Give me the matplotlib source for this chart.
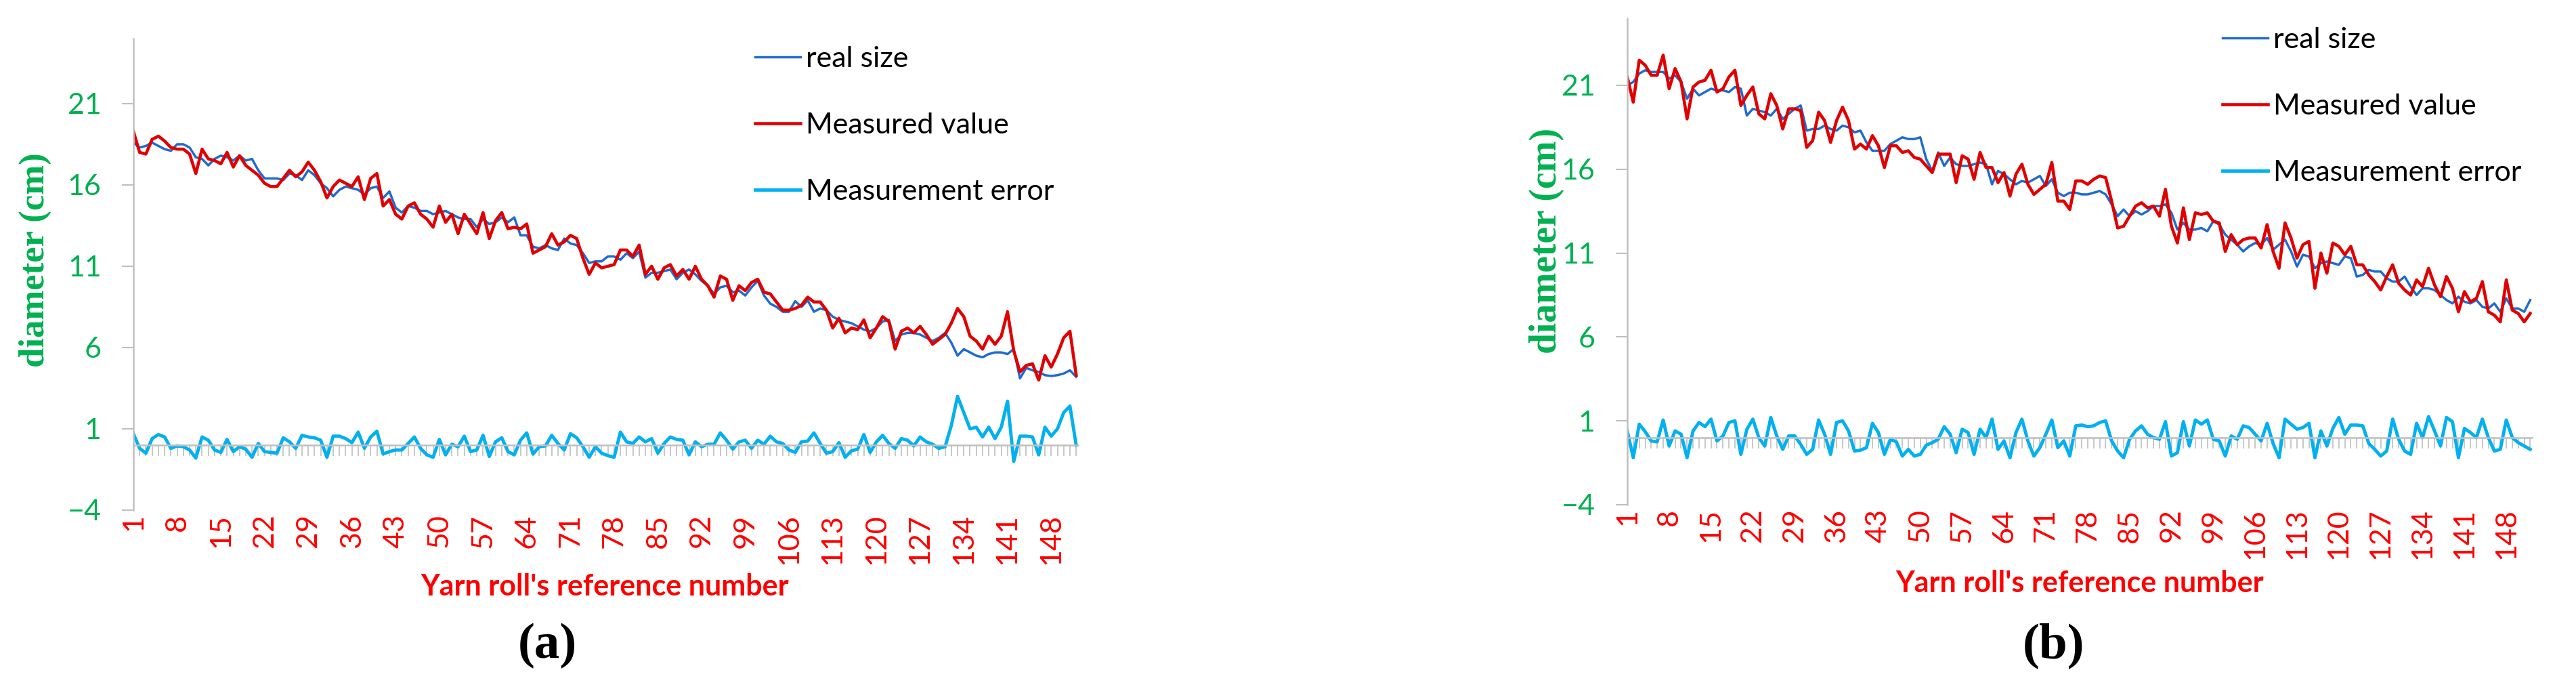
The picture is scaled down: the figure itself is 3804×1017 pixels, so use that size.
import numpy as np
import matplotlib.pyplot as plt

plt.rcParams['font.family'] = ['Lato', 'DejaVu Sans']

# panel (a)
real_a = [18.6, 18.3, 18.4, 18.6, 18.4, 18.2, 18.1, 18.5, 18.5, 18.3,
          17.7, 17.6, 17.2, 17.6, 17.8, 17.7, 17.5, 17.8, 17.5, 17.6,
          16.9, 16.4, 16.4, 16.4, 16.3, 16.7, 16.6, 16.3, 16.9, 16.6,
          16.1, 15.8, 15.3, 15.7, 15.9, 15.8, 15.7, 15.4, 15.8, 15.9,
          15.2, 15.6, 14.6, 14.3, 14.7, 14.6, 14.4, 14.4, 14.2, 14.3,
          14.4, 14.2, 14.0, 13.9, 13.9, 13.4, 13.9, 13.6, 13.7, 14.0,
          13.7, 14.0, 12.9, 12.9, 12.2, 12.1, 12.3, 12.1, 12.0, 12.7,
          12.4, 12.3, 11.8, 11.2, 11.3, 11.3, 11.6, 11.6, 11.4, 11.8,
          11.5, 11.9, 10.3, 10.6, 10.6, 10.7, 10.8, 10.2, 10.6, 10.8,
          10.5, 10.1, 9.8, 9.3, 9.7, 9.8, 9.4, 9.5, 9.2, 9.7,
          10.1, 9.2, 8.7, 8.5, 8.2, 8.2, 8.85, 8.5, 8.9, 8.2,
          8.4, 8.3, 7.9, 7.7, 7.6, 7.5, 7.3, 7.1, 7.0, 7.2,
          7.6, 7.7, 6.4, 6.8, 6.9, 6.9, 6.8, 6.6, 6.4, 6.6,
          6.9, 6.3, 5.5, 5.9, 5.7, 5.5, 5.4, 5.6, 5.7, 5.7,
          5.6, 5.9, 4.1, 4.75, 4.6, 4.5, 4.3, 4.25, 4.3, 4.4,
          4.6, 4.2]
measured_a = [19.3, 18.0, 17.9, 18.8, 19.0, 18.7, 18.3, 18.2, 18.2, 17.9,
              16.7, 18.2, 17.6, 17.5, 17.3, 18.0, 17.1, 17.8, 17.2, 16.9,
              16.6, 16.1, 15.9, 15.9, 16.4, 16.9, 16.5, 16.8, 17.4, 16.9,
              16.2, 15.2, 15.9, 16.3, 16.1, 15.9, 16.5, 15.1, 16.4, 16.7,
              14.7, 15.1, 14.2, 13.9, 14.7, 14.9, 14.2, 13.9, 13.4, 14.7,
              13.7, 14.2, 13.0, 14.2, 13.6, 13.0, 14.3, 12.7, 13.8, 14.3,
              13.3, 13.4, 13.3, 13.6, 11.8, 12.0, 12.2, 13.0, 12.3, 12.5,
              12.9, 12.7, 11.5, 10.5, 11.2, 10.9, 11.0, 11.1, 12.0, 12.0,
              11.6, 12.3, 10.5, 11.0, 10.2, 10.9, 11.1, 10.4, 10.8, 10.2,
              11.0, 10.2, 9.8, 9.1, 10.4, 10.2, 8.9, 9.8, 9.5, 10.0,
              10.2, 9.4, 9.3, 8.8, 8.3, 8.3, 8.4, 8.6, 9.1, 8.8,
              8.8, 8.3, 7.2, 7.8, 6.9, 7.2, 7.1, 7.7, 6.6, 7.2,
              7.9, 7.6, 5.9, 7.0, 7.2, 6.9, 7.3, 6.8, 6.2, 6.5,
              6.8, 7.5, 8.4, 7.9, 6.7, 6.4, 5.9, 6.7, 6.2, 6.7,
              8.2, 5.8, 4.5, 4.9, 5.0, 4.0, 5.5, 4.8, 5.6, 6.6,
              7.0, 4.3]
error_a = [0.7, -0.2, -0.5, 0.4, 0.65, 0.5, -0.2, -0.05, -0.1, -0.3,
           -0.8, 0.5, 0.3, -0.3, -0.45, 0.35, -0.4, -0.1, -0.25, -0.75,
           0.1, -0.4, -0.45, -0.5, 0.45, 0.2, -0.2, 0.6, 0.5, 0.45,
           0.3, -0.75, 0.55, 0.55, 0.4, 0.15, 0.8, -0.2, 0.5, 0.85,
           -0.55, -0.4, -0.3, -0.3, 0.1, 0.5, -0.2, -0.6, -0.75, 0.35,
           -0.6, 0.05, -0.1, 0.55, -0.4, -0.3, 0.6, -0.7, 0.2, 0.45,
           -0.4, -0.6, 0.3, 0.75, -0.55, -0.1, -0.05, 0.6, 0.1, -0.3,
           0.7, 0.45, -0.1, -0.75, -0.1, -0.5, -0.65, -0.75, 0.8, 0.2,
           0.1, 0.5, 0.2, 0.4, -0.5, 0.1, 0.5, 0.35, 0.3, -0.6,
           0.2, -0.1, 0.05, 0.05, 0.75, 0.3, -0.25, 0.2, 0.3, -0.2,
           0.3, 0.05, 0.55, 0.2, 0.1, -0.3, -0.45, 0.2, 0.25, 0.75,
           0.1, -0.5, -0.4, 0.15, -0.75, -0.35, -0.25, 0.65, -0.45, 0.2,
           0.6, 0.1, -0.2, 0.4, 0.3, -0.05, 0.5, 0.2, 0.05, -0.2,
           -0.1, 1.2, 3.0, 2.0, 1.0, 1.1, 0.5, 1.1, 0.4, 1.1,
           2.7, -1.0, 0.55, 0.55, 0.5, -0.6, 1.1, 0.55, 1.0, 2.0,
           2.4, 0.0]

# panel (b)
real_b = [21.0, 21.2, 21.7, 21.9, 21.8, 21.8, 21.8, 21.4, 21.6, 21.2,
          20.2, 20.8, 20.4, 20.6, 20.8, 20.7, 20.7, 20.6, 20.9, 20.8,
          19.2, 19.6, 19.5, 19.4, 19.2, 19.6, 19.0, 19.3, 19.6, 19.8,
          18.3, 18.4, 18.4, 18.6, 18.4, 18.3, 18.6, 18.5, 18.2, 18.3,
          17.6, 17.1, 17.1, 17.1, 17.5, 17.7, 17.9, 17.8, 17.8, 17.9,
          16.6, 15.9, 17.0, 16.2, 16.7, 16.3, 16.2, 16.2, 16.3, 16.4,
          16.3, 15.1, 15.9, 15.7, 15.4, 15.1, 15.3, 15.2, 15.4, 15.6,
          15.0, 15.4, 14.6, 14.4, 14.6, 14.6, 14.5, 14.5, 14.6, 14.7,
          14.5, 13.9, 13.2, 13.6, 13.2, 13.5, 13.3, 13.5, 13.8, 13.8,
          13.9, 13.4, 12.4, 12.8, 12.4, 12.4, 12.5, 12.3, 12.9, 12.7,
          12.1, 11.8, 11.5, 11.1, 11.4, 11.6, 11.5, 11.9, 11.2, 11.5,
          11.8, 11.1, 10.2, 10.9, 10.8, 10.1, 10.4, 10.5, 10.4, 10.3,
          10.8, 10.7, 9.6, 9.7, 10.0, 9.9, 9.9, 9.5, 9.3, 9.3,
          9.6, 9.0, 8.5, 8.9, 8.9, 8.8, 8.5, 8.2, 8.0, 8.4,
          8.1, 8.0, 8.2, 7.8, 7.7, 8.0, 7.5, 8.3, 7.7, 7.7,
          7.5, 8.2]
measured_b = [21.5, 20.0, 22.5, 22.2, 21.6, 21.6, 22.8, 20.8, 22.0, 21.2,
              19.0, 20.9, 21.2, 21.3, 21.9, 20.6, 20.8, 21.5, 21.9, 19.8,
              20.4, 20.9, 19.3, 19.0, 20.5, 19.8, 18.4, 19.6, 19.6, 19.5,
              17.3, 17.7, 19.4, 18.9, 17.6, 18.9, 19.7, 18.9, 17.2, 17.5,
              17.2, 18.0, 17.4, 16.1, 17.4, 17.4, 17.0, 17.1, 16.7, 16.6,
              16.2, 15.8, 16.9, 16.9, 16.9, 15.2, 16.8, 16.6, 15.4, 17.0,
              16.1, 16.1, 15.2, 15.8, 14.4, 15.7, 16.3, 15.1, 14.5, 14.8,
              15.1, 16.4, 14.1, 14.1, 13.6, 15.3, 15.3, 15.1, 15.4, 15.6,
              15.5, 14.1, 12.5, 12.6, 13.2, 13.8, 14.0, 13.7, 13.8, 13.2,
              14.8, 12.6, 11.6, 13.7, 11.8, 13.4, 13.3, 13.4, 12.9, 12.8,
              11.1, 12.1, 11.5, 11.8, 11.9, 11.9, 11.3, 12.7, 11.1, 10.1,
              12.8, 11.9, 10.7, 11.5, 11.7, 8.9, 11.0, 9.8, 11.6, 11.4,
              10.9, 11.4, 10.3, 10.3, 9.7, 9.3, 8.8, 9.6, 10.3, 9.2,
              8.8, 8.5, 9.4, 9.0, 10.1, 9.1, 8.4, 9.6, 8.9, 7.5,
              8.7, 8.1, 8.3, 9.3, 7.5, 7.3, 6.9, 9.4, 7.6, 7.4,
              6.9, 7.4]
error_b = [0.4, -1.2, 0.8, 0.35, -0.2, -0.25, 1.05, -0.5, 0.4, 0.2,
           -1.2, 0.4, 0.9, 0.65, 1.1, -0.2, 0.1, 0.9, 1.0, -1.0,
           0.5, 1.1, 0.0, -0.5, 1.2, 0.1, -0.7, 0.1, 0.1, -0.4,
           -1.0, -0.7, 1.05, 0.2, -1.0, 0.9, 1.0, 0.4, -0.8, -0.75,
           -0.6, 0.85, 0.3, -1.0, -0.1, -0.25, -1.1, -0.7, -1.1, -1.0,
           -0.45, -0.3, -0.1, 0.65, 0.2, -0.9, 0.5, 0.3, -1.0, 0.5,
           0.0, 1.1, -0.7, -0.2, -1.2, 0.3, 1.1, -0.2, -1.1, -0.6,
           0.2, 1.05, -0.6, -0.2, -1.1, 0.7, 0.75, 0.65, 0.7, 0.9,
           1.0, -0.2, -0.8, -1.2, -0.1, 0.4, 0.7, 0.2, 0.0, -0.1,
           0.95, -1.1, -0.9, 0.95, -0.5, 1.05, 0.8, 1.05, -0.1, -0.2,
           -1.1, 0.1, -0.1, 0.7, 0.6, 0.2, -0.2, 0.85, -0.35, -1.2,
           1.1, 0.8, 0.5, 0.6, 0.85, -1.2, 0.4, -0.5, 0.55, 1.2,
           0.2, 0.75, 0.75, 0.7, -0.35, -0.7, -1.1, -0.8, 1.1, -0.1,
           -0.8, -1.0, 0.85, 0.0, 1.25, 0.4, -0.5, 1.2, 0.95, -1.2,
           0.55, 0.3, 0.0, 1.1, 0.0, -0.8, -0.7, 1.05, 0.0, -0.3,
           -0.5, -0.7]

series_names = ['real size', 'Measured value', 'Measurement error']
x_tick_labels = list(range(1, 149, 7))
y_ticks = [-4, 1, 6, 11, 16, 21]

GREEN = '#00B050'
RED_TXT = '#FF0000'
GREY = '#BFBFBF'
BLUE = '#1F6BCF'
RED = '#E10000'
CYAN = '#00B0F0'

fig = plt.figure(figsize=(38.05, 10.17), dpi=100)


def draw_panel(rect, real, measured, error, leg_xy, ylab_xy, ylab_size, xlab_xy, tag_xy, tag):
    ax = fig.add_axes(rect)
    n = np.arange(1, len(real) + 1)
    ax.plot(n, real, color=BLUE, lw=2.5, label=series_names[0], solid_joinstyle='round')
    ax.plot(n, measured, color=RED, lw=3.3, label=series_names[1], solid_joinstyle='round')
    ax.plot(n, error, color=CYAN, lw=3.5, label=series_names[2], solid_joinstyle='round')
    ax.set_xlim(1, len(real) + 0.3)
    ax.set_ylim(-4, 25)

    ax.spines[['top', 'right']].set_visible(False)
    ax.spines['left'].set_color(GREY)
    ax.spines['left'].set_linewidth(1.8)
    ax.spines['bottom'].set_position(('data', 0))
    ax.spines['bottom'].set_color(GREY)
    ax.spines['bottom'].set_linewidth(1.8)

    ax.set_xticks(n)
    ax.tick_params(axis='x', direction='out', length=11.5, width=1.2,
                   color=GREY, labelbottom=False)
    ax.set_yticks(y_ticks)
    ax.tick_params(axis='y', length=12, width=1.5, color=GREY,
                   labelcolor=GREEN, labelsize=31, pad=22)

    sec = ax.secondary_xaxis(0.0)
    sec.set_xticks(x_tick_labels)
    sec.tick_params(length=0, labelsize=31, labelcolor=RED_TXT,
                    labelrotation=90, pad=4)
    sec.spines['bottom'].set_visible(False)

    ax.legend(loc='center left', bbox_to_anchor=leg_xy, bbox_transform=fig.transFigure,
              frameon=False, fontsize=31, handlelength=1.55, handletextpad=0.2,
              labelspacing=1.4, borderpad=0, borderaxespad=0)

    fig.text(ylab_xy[0], ylab_xy[1], 'diameter (cm)', rotation=90, ha='center', va='center',
             color=GREEN, fontsize=ylab_size, fontweight='bold', family='Liberation Serif')
    fig.text(xlab_xy[0], xlab_xy[1], "Yarn roll's reference number", ha='center', va='center',
             color=RED_TXT, fontsize=31, fontweight='bold')
    fig.text(tag_xy[0], tag_xy[1], tag, ha='center', va='center', color='black',
             fontsize=54, fontweight='bold', family='Liberation Serif')
    return ax


draw_panel([0.05177, 0.2596, 0.36662, 0.6844], real_a, measured_a, error_a,
           (0.2930, 0.818), (0.01367, 0.623), 38, (0.2347, 0.1485), (0.2124, 0.063), '(a)')
draw_panel([0.63154, 0.2675, 0.35112, 0.706], real_b, measured_b, error_b,
           (0.8625, 0.8456), (0.6003, 0.651), 40, (0.8071, 0.153), (0.797, 0.063), '(b)')

fig.savefig('out.png', dpi=100)
